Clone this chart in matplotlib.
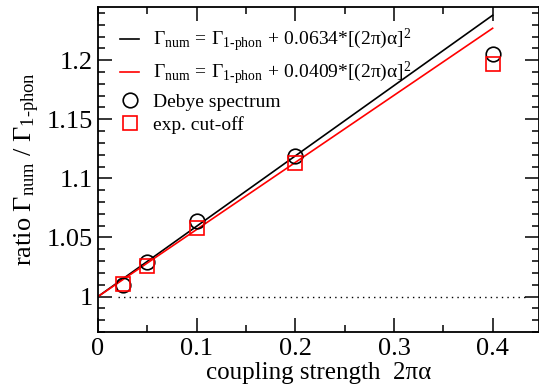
import matplotlib
matplotlib.use("Agg")
import matplotlib.pyplot as plt
from matplotlib.ticker import MultipleLocator, FuncFormatter

plt.rcParams['font.family'] = ['Liberation Serif', 'DejaVu Serif']
plt.rcParams['mathtext.fontset'] = 'custom'
plt.rcParams['mathtext.rm'] = 'Liberation Serif'
plt.rcParams['mathtext.it'] = 'Liberation Serif'
plt.rcParams['mathtext.bf'] = 'Liberation Serif'
plt.rcParams['mathtext.fallback'] = 'stix'

# data
coupling = [0.025, 0.05, 0.1, 0.2, 0.4]
debye = [1.010, 1.029, 1.064, 1.119, 1.205]
cutoff = [1.011, 1.026, 1.058, 1.113, 1.197]
fit_x = [0.0, 0.4]
fit_debye = [1.0, 1.238]
fit_cutoff = [1.0, 1.227]
ref_x = [0.02, 0.435]
ref_y = [1.0, 1.0]

lab_fit1 = r'$\Gamma_{\text{num}}\,=\,\Gamma_{\text{1-phon}}\,+\,0.0634\text{*}[(2\pi)\alpha]^2$'
lab_fit2 = r'$\Gamma_{\text{num}}\,=\,\Gamma_{\text{1-phon}}\,+\,0.0409\text{*}[(2\pi)\alpha]^2$'

fig = plt.figure(figsize=(5.39, 3.85), dpi=100)
ax = fig.add_axes([98/539, (385-332)/385, (539-98)/539, (332-7)/385])

ax.plot(fit_x, fit_debye, color='black', lw=1.2, label=lab_fit1)
ax.plot(fit_x, fit_cutoff, color='red', lw=1.2, label=lab_fit2)
ax.plot(ref_x, ref_y, color='black', lw=1.0, ls=(0, (1, 3)))
ax.plot(coupling, debye, ls='none', marker='o', ms=10.5, mfc='none', mec='black', mew=1.2, label='Debye spectrum')
ax.plot(coupling, cutoff, ls='none', marker='s', ms=9.5, mfc='none', mec='red', mew=1.2, label='exp. cut-off')

ax.set_xlim(0, 0.447)
ax.set_ylim(0.97, 1.245)
ax.xaxis.set_major_locator(MultipleLocator(0.1))
ax.xaxis.set_minor_locator(MultipleLocator(0.05))
ax.yaxis.set_major_locator(MultipleLocator(0.05))
ax.yaxis.set_minor_locator(MultipleLocator(0.01))
fmt = FuncFormatter(lambda v, p: ('%.2f' % v).rstrip('0').rstrip('.'))
ax.xaxis.set_major_formatter(fmt)
ax.yaxis.set_major_formatter(fmt)
ax.tick_params(which='both', direction='in', top=True, right=True, labelsize=19, width=1.1)
ax.tick_params(which='major', length=10, pad=4)
ax.tick_params(which='minor', length=5)
for s in ax.spines.values():
    s.set_linewidth(1.3)

ax.set_xlabel('coupling strength  2πα', fontsize=18, labelpad=2)
ax.set_ylabel(r'ratio $\Gamma_{\text{num}}$ / $\Gamma_{\text{1-phon}}$', fontsize=19, labelpad=3)

leg = ax.legend(loc='upper left', frameon=False, fontsize=14, handlelength=0.95,
                handletextpad=0.75, labelspacing=0.3, borderaxespad=0.3,
                bbox_to_anchor=(0.02, 0.98))

fig.savefig('out.png', dpi=100)
